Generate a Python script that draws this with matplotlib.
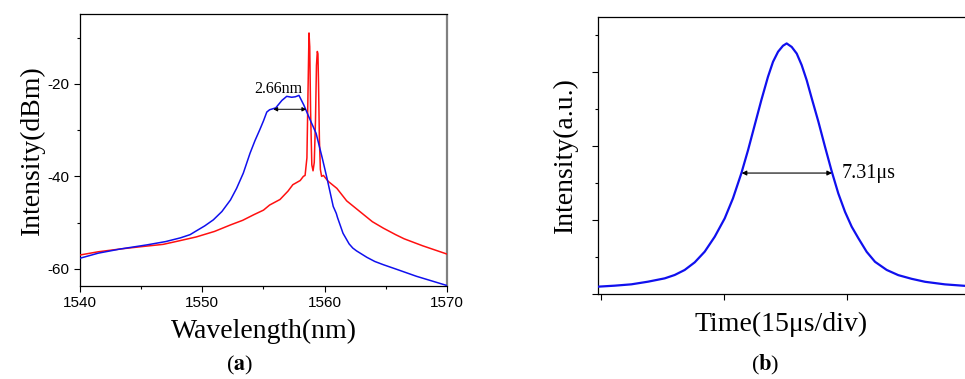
"""
Spectrum and pulse shape, two panels side by side.
"""

import matplotlib
matplotlib.use('Agg')
import matplotlib.pyplot as plt
from matplotlib.ticker import MultipleLocator

# =============================================================================
# DATA
# =============================================================================

# (a) blue spectrum
blue_wl = [1540, 1541.5, 1543.3, 1545.5, 1547, 1548.2, 1549.0, 1549.5, 1550.2,
           1550.9, 1551.6, 1552.3, 1552.8, 1553.35, 1553.9, 1554.3, 1554.7,
           1555.0, 1555.27, 1555.5, 1556.0, 1556.5, 1556.9, 1557.3, 1557.6,
           1557.9, 1558.3, 1558.7, 1559.3, 1559.8, 1560.2, 1560.7, 1560.95,
           1561.05, 1561.5, 1562.0, 1562.3, 1562.6, 1563.45, 1564.1, 1564.8,
           1566.0, 1567.5, 1569.0, 1570]
blue_db = [-57.7, -56.6, -55.7, -54.8, -54.1, -53.3, -52.6, -51.8, -50.7,
           -49.4, -47.6, -45.1, -42.6, -39.3, -35.0, -32.3, -29.9,
           -28.0, -26.1, -25.6, -25.2, -23.6, -22.7, -22.9, -22.8,
           -22.5, -24.6, -27.1, -30.7, -36.0, -40.5, -46.5, -48.0,
           -48.9, -52.3, -54.6, -55.5, -56.1, -57.5, -58.4, -59.1,
           -60.2, -61.6, -62.8, -63.6]

# (a) red spectrum with the two lasing lines
red_wl = [1540, 1541.5, 1543.3, 1545.0, 1546.8, 1548.0, 1549.5, 1551.0, 1552.3,
          1553.3, 1554.2, 1555.0, 1555.5, 1556.35, 1557.0, 1557.4, 1558.0,
          1558.26, 1558.40, 1558.55, 1558.65, 1558.72, 1558.78, 1558.85,
          1558.95, 1559.05, 1559.15, 1559.25, 1559.33, 1559.40, 1559.45,
          1559.50, 1559.57, 1559.65, 1559.75, 1559.9, 1560.3, 1561.0, 1561.8,
          1562.5, 1563.2, 1563.9, 1564.8, 1565.8, 1566.5, 1567.2, 1568.0,
          1569.0, 1570]
red_db = [-57.0, -56.3, -55.7, -55.2, -54.7, -54.0, -53.1, -51.9, -50.5,
          -49.5, -48.3, -47.3, -46.2, -45.0, -43.2, -41.8, -40.9,
          -40.0, -39.8, -36.0, -20.0, -9.0, -12.0, -26.0,
          -37.5, -38.8, -37.0, -28.0, -16.0, -13.0, -13.5,
          -20.0, -32.0, -38.5, -40.0, -39.8, -41.1, -42.6, -45.3,
          -46.8, -48.3, -49.8, -51.2, -52.6, -53.5, -54.2, -55.0,
          -55.9, -56.8]

FWHM_A = (1555.8, 1558.5, -25.5)      # x1, x2, y of the 2.66 nm arrow
FWHM_A_LABEL = '2.66nm'

# (b) pulse, time in divisions, intensity in a.u.
pulse_t = [-0.022, 0.114, 0.249, 0.385, 0.521, 0.602, 0.683, 0.765, 0.846,
           0.928, 1.009, 1.076, 1.144, 1.199, 1.253, 1.307, 1.361, 1.402,
           1.443, 1.483, 1.513, 1.554, 1.595, 1.635, 1.676, 1.717, 1.771,
           1.825, 1.880, 1.933, 1.988, 2.042, 2.096, 2.164, 2.232, 2.327,
           2.421, 2.530, 2.639, 2.801, 2.964]
pulse_i = [0.0198, 0.0225, 0.0261, 0.0333, 0.0423, 0.0514, 0.0649, 0.0856,
           0.1144, 0.1550, 0.2045, 0.2586, 0.3261, 0.3892, 0.4568, 0.5243,
           0.5874, 0.6279, 0.6550, 0.6712, 0.6775, 0.668, 0.650, 0.619,
           0.578, 0.529, 0.466, 0.398, 0.331, 0.272, 0.222, 0.182, 0.151,
           0.114, 0.087, 0.065, 0.051, 0.041, 0.033, 0.026, 0.022]

FWHM_B = (1.147, 1.882, 0.327)
FWHM_B_LABEL = '7.31μs'

SERIF = 'Liberation Serif'
BLUE = '#1010ee'
RED = '#ff1010'

# =============================================================================
# PLOT
# =============================================================================

plt.rcParams['font.family'] = ['Liberation Sans', 'DejaVu Sans']
plt.rcParams['mathtext.fontset'] = 'stix'
plt.rcParams['axes.unicode_minus'] = False

fig = plt.figure(figsize=(9.65, 3.79), dpi=100)

# ---- panel (a)
ax1 = fig.add_axes([0.0829, 0.2454, 0.3803, 0.7177])
ax1.plot(red_wl, red_db, color=RED, lw=1.1, zorder=3)
ax1.plot(blue_wl, blue_db, color=BLUE, lw=1.1, zorder=4)

ax1.set_xlim(1540, 1570)
ax1.set_ylim(-63.7, -4.9)
ax1.xaxis.set_major_locator(MultipleLocator(10))
ax1.xaxis.set_minor_locator(MultipleLocator(5))
ax1.yaxis.set_major_locator(MultipleLocator(20))
ax1.yaxis.set_minor_locator(MultipleLocator(10))
ax1.tick_params(which='both', direction='out', labelsize=11, width=0.8)
ax1.tick_params(which='major', length=4.5, pad=3)
ax1.tick_params(which='minor', length=2.5)
ax1.spines['right'].set_color('#808080')
ax1.spines['right'].set_linewidth(1.6)
ax1.spines['right'].set_capstyle('butt')
for s in ('left', 'top', 'bottom'):
    ax1.spines[s].set_linewidth(0.9)

x1, x2, ya = FWHM_A
ax1.annotate('', xy=(x2, ya), xytext=(x1, ya),
             arrowprops=dict(arrowstyle='<|-|>', color='black', lw=0.7,
                             mutation_scale=6, shrinkA=0, shrinkB=0), zorder=5)
ax1.text(1556.2, -21.1, FWHM_A_LABEL, family=SERIF, fontsize=11.5,
         ha='center', va='center')

ax1.set_xlabel('Wavelength(nm)', family=SERIF, fontsize=20, labelpad=6)
ax1.set_ylabel('Intensity(dBm)', family=SERIF, fontsize=20, labelpad=2)

# ---- panel (b)
ax2 = fig.add_axes([0.6197, 0.2243, 0.3803, 0.7309])
ax2.plot(pulse_t, pulse_i, color=BLUE, lw=1.6, zorder=3)

ax2.set_xlim(-0.022, 2.964)
ax2.set_ylim(0, 0.749)
ax2.set_xticks([0, 1, 2])
ax2.yaxis.set_major_locator(MultipleLocator(0.2))
ax2.yaxis.set_minor_locator(MultipleLocator(0.1))
ax2.tick_params(which='both', direction='out', labelleft=False,
                labelbottom=False, width=0.8)
ax2.tick_params(which='major', length=4.5)
ax2.tick_params(which='minor', length=2.5)
ax2.spines['right'].set_visible(False)
for s in ('left', 'top', 'bottom'):
    ax2.spines[s].set_linewidth(0.9)

t1, t2, yb = FWHM_B
ax2.annotate('', xy=(t2, yb), xytext=(t1, yb),
             arrowprops=dict(arrowstyle='<|-|>', color='black', lw=0.8,
                             mutation_scale=7, shrinkA=0, shrinkB=0), zorder=5)
ax2.text(1.96, yb, FWHM_B_LABEL, family=SERIF, fontsize=14.5,
         ha='left', va='center')

ax2.set_xlabel('Time(15μs/div)', family=SERIF, fontsize=20, labelpad=8)
ax2.set_ylabel('Intensity(a.u.)', family=SERIF, fontsize=20, labelpad=10)

# ---- panel captions
fig.text(240 / 965, 1 - 365 / 379, r'($\mathbf{a}$)', family=SERIF,
         fontsize=16, ha='center', va='center')
fig.text(765 / 965, 1 - 365 / 379, r'($\mathbf{b}$)', family=SERIF,
         fontsize=16, ha='center', va='center')

fig.savefig('out.png', dpi=100, facecolor='white')
